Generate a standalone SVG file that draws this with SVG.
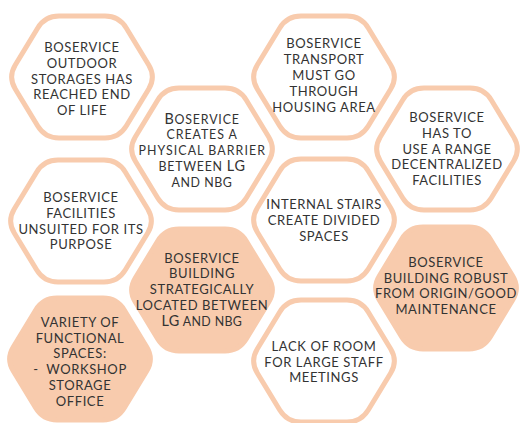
<svg xmlns="http://www.w3.org/2000/svg" width="521" height="423" viewBox="0 0 521 423">
<defs>
<style>
.hx{fill:#ffffff;stroke:#F8CBAD;stroke-width:5}
.hf{fill:#F8CBAD;stroke:#F8CBAD;stroke-width:5}
text{font-family:Lato,"Open Sans",sans-serif;font-size:13px;fill:#333333;text-anchor:middle;letter-spacing:0.6px}
.sm{font-size:12.4px}
.bg{font-size:14.4px}
</style>
<path id="hex" d="M-23,-61 L23,-61 Q37,-61 44.26,-49.03 L66.74,-11.97 Q74,0 66.74,11.97 L44.26,49.03 Q37,61 23,61 L-23,61 Q-37,61 -44.26,49.03 L-66.74,11.97 Q-74,0 -66.74,-11.97 L-44.26,-49.03 Q-37,-61 -23,-61 Z"/>
</defs>
<rect width="521" height="423" fill="#ffffff"/>
<g id="connectors"></g>
<g id="n1">
<use href="#hex" class="hx" x="82" y="77"/>
<text x="82" y="52.3">BOSERVICE</text>
<text x="82" y="68">OUTDOOR</text>
<text x="82" y="83.7">STORAGES HAS</text>
<text x="82" y="99.3">REACHED END</text>
<text x="82" y="115">OF LIFE</text>
</g>
<g id="n2">
<use href="#hex" class="hx" x="202" y="149"/>
<text x="202" y="124.3" textLength="75" lengthAdjust="spacing"><tspan class="bg">B</tspan><tspan class="sm">OSERVICE</tspan></text>
<text x="202" y="139.3" class="sm" textLength="71" lengthAdjust="spacing">CREATES A</text>
<text x="202" y="155" class="sm" textLength="127" lengthAdjust="spacing">PHYSICAL BARRIER</text>
<text x="202" y="170.7" textLength="87" lengthAdjust="spacing"><tspan class="sm">BETWEEN </tspan><tspan class="bg">LG</tspan></text>
<text x="202" y="186.7" class="sm" textLength="61" lengthAdjust="spacing">AND NBG</text>
</g>
<g id="n3">
<use href="#hex" class="hx" x="324" y="77"/>
<text x="324" y="48.3">BOSERVICE</text>
<text x="324" y="64">TRANSPORT</text>
<text x="324" y="80">MUST GO</text>
<text x="324" y="95.7">THROUGH</text>
<text x="324" y="111.7">HOUSING AREA</text>
</g>
<g id="n4">
<use href="#hex" class="hx" x="447" y="149"/>
<text x="447" y="122.3">BOSERVICE</text>
<text x="447" y="137.7">HAS TO</text>
<text x="447" y="153.7">USE A RANGE</text>
<text x="447" y="169.3">DECENTRALIZED</text>
<text x="447" y="185">FACILITIES</text>
</g>
<g id="n5">
<use href="#hex" class="hx" x="81" y="221"/>
<text x="81" y="202.3">BOSERVICE</text>
<text x="81" y="217.7">FACILITIES</text>
<text x="81" y="233.7">UNSUITED FOR ITS</text>
<text x="81" y="249.3">PURPOSE</text>
</g>
<g id="n6">
<use href="#hex" class="hf" x="202" y="290"/>
<text x="202" y="262.7">BOSERVICE</text>
<text x="202" y="278.3">BUILDING</text>
<text x="202" y="294">STRATEGICALLY</text>
<text x="202" y="310">LOCATED BETWEEN</text>
<text x="202" y="326" textLength="81" lengthAdjust="spacing"><tspan class="bg">LG</tspan><tspan class="sm"> AND NBG</tspan></text>
</g>
<g id="n7">
<use href="#hex" class="hx" x="324" y="220"/>
<text x="324" y="209.3">INTERNAL STAIRS</text>
<text x="324" y="225">CREATE DIVIDED</text>
<text x="324" y="241">SPACES</text>
</g>
<g id="n8">
<use href="#hex" class="hf" x="446" y="288"/>
<text x="446" y="266.7">BOSERVICE</text>
<text x="446" y="282.7">BUILDING ROBUST</text>
<text x="446" y="298.3">FROM ORIGIN/GOOD</text>
<text x="446" y="314">MAINTENANCE</text>
</g>
<g id="n9">
<use href="#hex" class="hf" x="80" y="359"/>
<text x="80" y="326.7">VARIETY OF</text>
<text x="80" y="342.7">FUNCTIONAL</text>
<text x="80" y="358.3">SPACES:</text>
<text x="80" y="374" xml:space="preserve">-  WORKSHOP</text>
<text x="80" y="390">STORAGE</text>
<text x="80" y="406">OFFICE</text>
</g>
<g id="n10">
<use href="#hex" class="hx" x="324" y="361"/>
<text x="324" y="350.7">LACK OF ROOM</text>
<text x="324" y="366.7">FOR LARGE STAFF</text>
<text x="324" y="382.3">MEETINGS</text>
</g>
</svg>
